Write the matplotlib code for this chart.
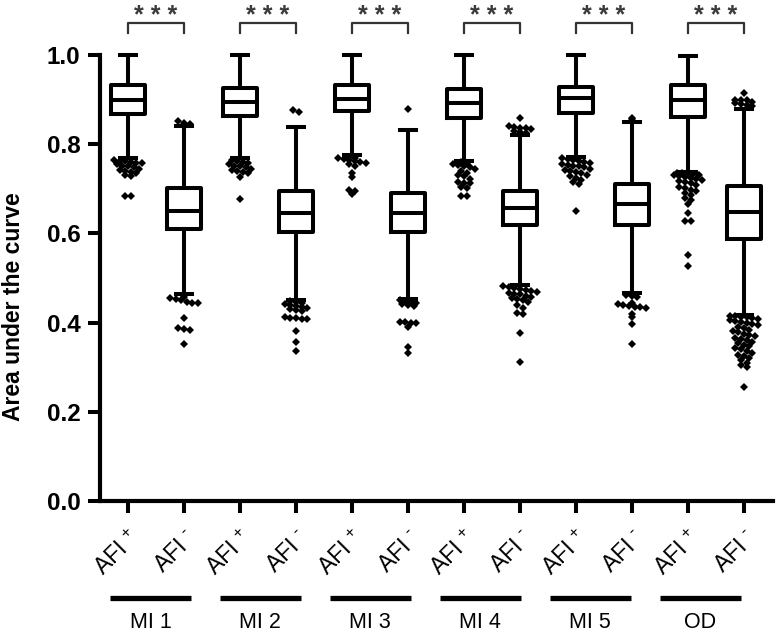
import matplotlib
matplotlib.use('Agg')
import matplotlib.pyplot as plt
import numpy as np
from matplotlib.transforms import blended_transform_factory

plt.rcParams['font.family'] = ['Liberation Sans', 'DejaVu Sans']
plt.rcParams['mathtext.fontset'] = 'custom'
plt.rcParams['mathtext.rm'] = 'Liberation Sans'

# ---------------- data ----------------
groups = ['MI 1', 'MI 2', 'MI 3', 'MI 4', 'MI 5', 'OD']
tick_labels = [r'AFI $^{+}$', 'AFI $^{\u2010}$'] * 6

whisker_high = [1.000, 0.841, 1.000, 0.839, 1.000, 0.832, 1.000, 0.821, 1.000, 0.850, 0.998, 0.880]
q3 = [0.933, 0.702, 0.927, 0.696, 0.933, 0.691, 0.923, 0.696, 0.929, 0.711, 0.933, 0.706]
median = [0.899, 0.651, 0.894, 0.646, 0.901, 0.646, 0.892, 0.656, 0.903, 0.666, 0.898, 0.647]
q1 = [0.868, 0.610, 0.863, 0.604, 0.874, 0.604, 0.858, 0.619, 0.871, 0.619, 0.860, 0.587]
whisker_low = [0.768, 0.463, 0.768, 0.451, 0.776, 0.454, 0.763, 0.484, 0.772, 0.466, 0.738, 0.417]

fliers_mi1_pos = [0.765, 0.763, 0.762, 0.760, 0.758, 0.757, 0.755, 0.752, 0.750, 0.748,
                  0.745, 0.742, 0.740, 0.738, 0.735, 0.730, 0.728, 0.683, 0.683]
fliers_mi1_neg = [0.852, 0.848, 0.845, 0.458, 0.455, 0.452, 0.450, 0.447, 0.445, 0.444,
                  0.411, 0.387, 0.385, 0.383, 0.353]
fliers_mi2_pos = [0.765, 0.762, 0.760, 0.758, 0.755, 0.752, 0.750, 0.748, 0.745, 0.742,
                  0.740, 0.738, 0.735, 0.727, 0.676]
fliers_mi2_neg = [0.876, 0.872, 0.448, 0.446, 0.444, 0.442, 0.440, 0.438, 0.436, 0.433,
                  0.430, 0.428, 0.425, 0.412, 0.410, 0.410, 0.408, 0.408, 0.382, 0.357, 0.336]
fliers_mi3_pos = [0.772, 0.770, 0.768, 0.766, 0.764, 0.762, 0.760, 0.757, 0.755, 0.750,
                  0.736, 0.727, 0.697, 0.695, 0.688]
fliers_mi3_neg = [0.878, 0.450, 0.448, 0.446, 0.444, 0.442, 0.440, 0.438, 0.402, 0.402,
                  0.400, 0.398, 0.391, 0.346, 0.331]
fliers_mi4_pos = [0.760, 0.758, 0.756, 0.754, 0.750, 0.748, 0.745, 0.740, 0.736, 0.730,
                  0.728, 0.722, 0.715, 0.713, 0.712, 0.703, 0.702, 0.684, 0.684]
fliers_mi4_neg = [0.858, 0.840, 0.838, 0.837, 0.836, 0.835, 0.830, 0.828, 0.826,
                  0.481, 0.479, 0.477, 0.475, 0.473, 0.471, 0.469, 0.467, 0.465, 0.463,
                  0.460, 0.458, 0.455, 0.452, 0.450, 0.447, 0.440, 0.432, 0.422, 0.420,
                  0.377, 0.312]
fliers_mi5_pos = [0.770, 0.768, 0.766, 0.764, 0.762, 0.760, 0.758, 0.756, 0.754, 0.752,
                  0.750, 0.748, 0.745, 0.742, 0.740, 0.737, 0.735, 0.732, 0.728, 0.725,
                  0.720, 0.715, 0.710, 0.651]
fliers_mi5_neg = [0.858, 0.856, 0.462, 0.460, 0.458, 0.445, 0.442, 0.440, 0.438, 0.436,
                  0.434, 0.432, 0.420, 0.413, 0.397, 0.351]
fliers_od_pos = [0.736, 0.735, 0.734, 0.733, 0.732, 0.730, 0.728, 0.727, 0.725, 0.722,
                 0.720, 0.718, 0.716, 0.712, 0.708, 0.705, 0.701, 0.698, 0.694, 0.690,
                 0.686, 0.680, 0.675, 0.665, 0.645, 0.628, 0.627, 0.552, 0.527]
fliers_od_neg = [0.914, 0.900, 0.899, 0.898, 0.895, 0.893, 0.890, 0.888, 0.885,
                 0.415, 0.414, 0.413, 0.412, 0.410, 0.408, 0.406, 0.404, 0.402, 0.400,
                 0.397, 0.394, 0.390, 0.387, 0.384, 0.381, 0.378, 0.375, 0.372, 0.369,
                 0.366, 0.363, 0.360, 0.357, 0.354, 0.350, 0.347, 0.343, 0.340, 0.336,
                 0.332, 0.328, 0.324, 0.320, 0.315, 0.310, 0.305, 0.300, 0.256]
fliers = [fliers_mi1_pos, fliers_mi1_neg, fliers_mi2_pos, fliers_mi2_neg,
          fliers_mi3_pos, fliers_mi3_neg, fliers_mi4_pos, fliers_mi4_neg,
          fliers_mi5_pos, fliers_mi5_neg, fliers_od_pos, fliers_od_neg]
significance = ['***'] * 6

# ---------------- figure ----------------
fig = plt.figure(figsize=(7.8, 6.32), dpi=100)
ax = fig.add_axes([0.1282, 0.2073, 0.991 - 0.1282, 0.913 - 0.2073])

n = len(median)
positions = np.arange(1, n + 1)
stats = []
for i in range(n):
    stats.append(dict(whislo=whisker_low[i], q1=q1[i], med=median[i], q3=q3[i],
                      whishi=whisker_high[i], fliers=[]))

lw = 2.9
ax.bxp(stats, positions=positions, widths=0.61, capwidths=0.29, showfliers=False,
       boxprops=dict(color='black', linewidth=lw),
       medianprops=dict(color='black', linewidth=lw, solid_capstyle='butt'),
       whiskerprops=dict(color='black', linewidth=lw),
       capprops=dict(color='black', linewidth=lw),
       manage_ticks=False)
for art in ax.lines:
    art.set_clip_on(False)


def swarm(vals, row_h=0.0125, dx=0.1):
    vals = np.sort(np.asarray(vals))[::-1]
    offs = np.zeros(len(vals))
    keys = np.round(vals / row_h).astype(int)
    for k in np.unique(keys):
        idx = np.where(keys == k)[0]
        m = len(idx)
        offs[idx] = (np.arange(m) - (m - 1) / 2) * dx
    return vals, offs


for i, fl in enumerate(fliers):
    v, o = swarm(fl)
    ax.plot(positions[i] + o, v, linestyle='none', marker='D', markersize=4.4,
            color='black', markeredgewidth=0, clip_on=False)

ax.set_xlim(0.5, 12.52)
ax.set_ylim(0, 1.0)
ax.spines['top'].set_visible(False)
ax.spines['right'].set_visible(False)
ax.spines['left'].set_linewidth(3.0)
ax.spines['bottom'].set_linewidth(3.0)
ax.spines['left'].set_capstyle('projecting')

ax.set_yticks(np.arange(0, 1.01, 0.2))
ax.set_yticklabels([f'{t:.1f}' for t in np.arange(0, 1.01, 0.2)],
                   fontsize=17.5, fontweight='bold')
ax.tick_params(axis='y', direction='out', length=9, width=2.9, pad=5)
ax.set_xticks(positions)
ax.set_xticklabels(tick_labels, fontsize=16.5, rotation=45, ha='right',
                   rotation_mode='anchor')
ax.tick_params(axis='x', direction='out', length=8.5, width=2.9, pad=10)

ax.set_ylabel('Area under the curve', fontsize=16.5, fontweight='bold')
ax.yaxis.set_label_coords(-0.111, 0.435)

# significance brackets
for g in range(6):
    x1, x2 = positions[2 * g], positions[2 * g + 1]
    ax.plot([x1, x1, x2, x2], [1.049, 1.071, 1.071, 1.049], color='#333333',
            linewidth=1.6, clip_on=False)
    ax.text((x1 + x2) / 2, 1.088, ' '.join(significance[g]), ha='center', va='center',
            fontsize=18, fontweight='bold', color='#3a3a3a', clip_on=False)

# group bars and labels
trans = blended_transform_factory(ax.transData, fig.transFigure)
for g, name in enumerate(groups):
    c = 1.40 + 1.964 * g
    ax.plot([c - 0.72, c + 0.72], [0.0538, 0.0538], color='black', linewidth=3.8,
            transform=trans, clip_on=False, solid_capstyle='butt')
    ax.text(c, 0.0158, name, transform=trans, ha='center', va='center', fontsize=15.5)

fig.savefig('out.png', dpi=100)
